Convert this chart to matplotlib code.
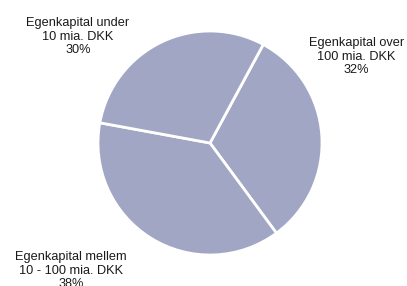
import matplotlib.pyplot as plt

# 数据
labels = ['Egenkapital over\n100 mia. DKK', 'Egenkapital mellem\n10 - 100 mia. DKK', 'Egenkapital under\n10 mia. DKK']
shares = [32, 38, 30]
label_pos = [(1.31, 0.77), (-1.24, -1.14), (-1.18, 0.95)]

fig = plt.figure(figsize=(4.07, 2.86), dpi=100)
ax = fig.add_axes([0, 0, 1, 1])

ax.pie(shares, startangle=61.6, counterclock=False, colors=['#a0a6c4'] * 3,
       wedgeprops=dict(edgecolor='white', linewidth=2.0))

for lab, val, (x, y) in zip(labels, shares, label_pos):
    ax.text(x, y, f'{lab}\n{val}%', ha='center', va='center', fontsize=9.2,
            family='Liberation Sans', color='#1a1a1a', linespacing=1.17)

ax.set_xlim(-210 / 112, 197 / 112)
ax.set_ylim(-143 / 112, 143 / 112)
ax.set_aspect('auto')
ax.axis('off')

fig.savefig('out.png', dpi=100)
